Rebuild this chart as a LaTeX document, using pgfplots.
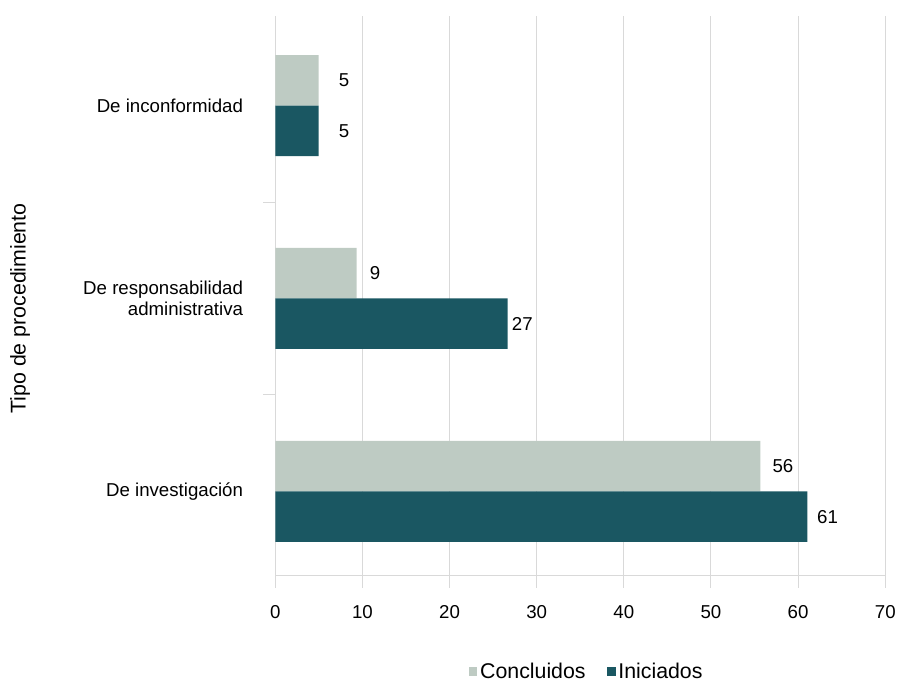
\documentclass[border=0pt]{standalone}
\usepackage{pgfplots}
\usepackage{pgfplotstable}
\pgfplotsset{compat=1.18}
\usepackage{fontspec}
\setmainfont{Liberation Sans}
\definecolor{lightbar}{RGB}{190,203,195}
\definecolor{darkbar}{RGB}{26,87,98}
\definecolor{gridgray}{RGB}{217,217,217}

\pgfplotstableread{
y x lab dx
0 55.66 56 9
1 9.34 9 9.75
2 4.97 5 15
}\concl
\pgfplotstableread{
y x lab dx
0 61.05 61 7.25
1 26.67 27 3
2 4.97 5 15
}\inic

\begin{document}
\begin{tikzpicture}
\begin{axis}[
  at={(0,0)}, anchor=south west,
  scale only axis,
  width=457.5pt, height=420pt,
  xmin=0, xmax=70,
  ymin=-0.438, ymax=2.464,
  xtick={0,10,...,70},
  ytick={0.5,1.5},
  yticklabels={{},{}},
  extra y ticks={0,1,2},
  extra y tick labels={De investigación,{De responsabilidad\\administrativa},De inconformidad},
  extra y tick style={major tick length=0pt},
  yticklabel style={align=right, anchor=east, inner sep=0pt, xshift=-24pt,
    font=\fontsize{14}{16}\selectfont},
  xticklabel style={anchor=north, inner sep=0pt, yshift=-13pt,
    font=\fontsize{14}{16}\selectfont},
  /pgf/number format/assume math mode=true,
  axis x line*=bottom, axis y line*=left,
  axis line style={-, draw=gridgray, line width=0.75pt},
  tick align=outside,
  major tick length=9pt,
  tick style={draw=gridgray, line width=0.75pt},
  xmajorgrids, ymajorgrids=false,
  grid style={draw=gridgray, line width=0.75pt},
  xbar,
  bar width=0.2617,
  ylabel={Tipo de procedimiento},
  ylabel style={at={(axis description cs:-0.4185,0.4777)}, anchor=center, rotate=0,
    font=\fontsize{16}{19}\selectfont},
  legend columns=2,
  legend style={at={(axis description cs:0.511,-0.171)}, anchor=center, draw=none,
    font=\fontsize{16}{19}\selectfont,
    /tikz/every even column/.append style={column sep=14pt}},
  legend image code/.code={\fill[#1] (0pt,-3.25pt) rectangle (6.5pt,3.25pt);},
  nodes near coords,
  point meta=explicit symbolic,
  visualization depends on={\thisrow{dx} \as \dx},
  nodes near coords style={anchor=west, inner sep=0pt, xshift=\dx pt,
    font=\fontsize{14}{16}\selectfont, text=black},
]
\addplot[fill=lightbar, draw=none, bar shift=0.1308] table[x=x, y=y, meta=lab] {\concl};
\addlegendentry{Concluidos}
\addplot[fill=darkbar, draw=none, bar shift=-0.1308] table[x=x, y=y, meta=lab] {\inic};
\addlegendentry{Iniciados}
\end{axis}
\pgfresetboundingbox
\path[use as bounding box] (-206.5pt,-78.75pt) rectangle (466.3pt,432pt);
\end{tikzpicture}
\end{document}
